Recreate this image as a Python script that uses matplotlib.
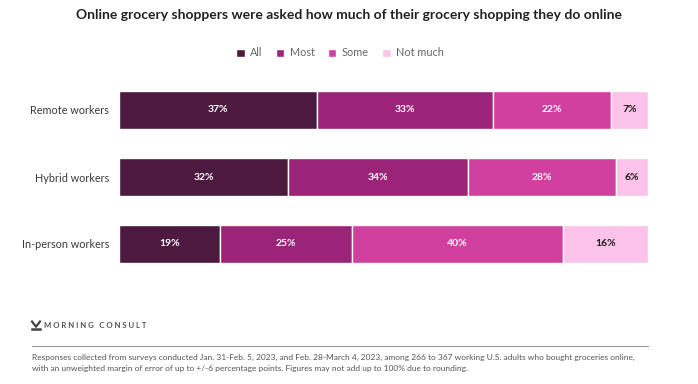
import matplotlib.pyplot as plt
from matplotlib.lines import Line2D
import numpy as np

plt.rcParams['font.family'] = ['Lato', 'DejaVu Sans']

groups = ['Remote workers', 'Hybrid workers', 'In-person workers']
series = ['All', 'Most', 'Some', 'Not much']
all_vals = [37, 32, 19]
most_vals = [33, 34, 25]
some_vals = [22, 28, 40]
notmuch_vals = [7, 6, 16]

colors = ['#4b1a3e', '#9b2478', '#d13f9f', '#fbc3ea']
text_colors = ['white', 'white', 'white', '#1a1a1a']

W, H = 698, 384
fig = plt.figure(figsize=(W / 100, H / 100), dpi=100)
ax = fig.add_axes([119 / W, 1 - 277.5 / H, 529 / W, 201 / H])

data = np.array([all_vals, most_vals, some_vals, notmuch_vals], dtype=float)
totals = data.sum(axis=0)
y = np.arange(len(groups))
left = np.zeros(len(groups))
handles = []
for i, name in enumerate(series):
    w = data[i] / totals * 100
    b = ax.barh(y, w, left=left, height=0.58, color=colors[i],
                edgecolor='white', linewidth=1, label=name)
    handles.append(b)
    for j in range(len(groups)):
        ax.text(left[j] + w[j] / 2, y[j], '%d%%' % data[i][j],
                ha='center', va='center', fontsize=7.5, fontweight='bold',
                color=text_colors[i])
    left += w

ax.set_xlim(0, 100)
ax.set_ylim(2.5, -0.5)
ax.set_yticks(y)
ax.set_yticklabels(groups, fontsize=7.8, color='#3a3a3a')
ax.tick_params(axis='y', length=0, pad=7)
ax.set_xticks([])
for s in ax.spines.values():
    s.set_visible(False)

fig.text(349 / W, 1 - 15 / H, 'Online grocery shoppers were asked how much of their grocery shopping they do online',
         ha='center', va='center', fontsize=10, fontweight='bold', color='#222222')

fig.legend(handles=handles, labels=series, loc='center', bbox_to_anchor=(340 / W, 1 - 53 / H),
           ncol=4, frameon=False, fontsize=7.8, handlelength=0.8, handleheight=0.8,
           handletextpad=0.5, columnspacing=1.2, labelcolor='#666666')

# logo
lx, ly = 32 / W, 1 - 325 / H
dx, dy = 8 / W, 7 / H
fig.add_artist(Line2D([lx, lx + dx * 0.5, lx + dx], [ly + dy / 2, ly - dy / 4, ly + dy / 2],
                      transform=fig.transFigure, color='#444444', lw=1.6))
fig.add_artist(Line2D([lx, lx + dx], [ly - dy / 2, ly - dy / 2],
                      transform=fig.transFigure, color='#444444', lw=1.8))
fig.text(44 / W, ly, 'M O R N I N G   C O N S U L T', ha='left', va='center', fontsize=5.6,
         fontweight='bold', color='#555555')

fig.add_artist(Line2D([32 / W, 648 / W], [1 - 346 / H, 1 - 346 / H],
                      transform=fig.transFigure, color='#999999', lw=0.8))

fig.text(32 / W, 1 - 357 / H,
         'Responses collected from surveys conducted Jan. 31-Feb. 5, 2023, and Feb. 28-March 4, 2023, among 266 to 367 working U.S. adults who bought groceries online,',
         ha='left', va='center', fontsize=6.0, color='#555555')
fig.text(32 / W, 1 - 369 / H,
         'with an unweighted margin of error of up to +/-6 percentage points. Figures may not add up to 100% due to rounding.',
         ha='left', va='center', fontsize=6.0, color='#555555')

fig.savefig('out.png', dpi=100)
